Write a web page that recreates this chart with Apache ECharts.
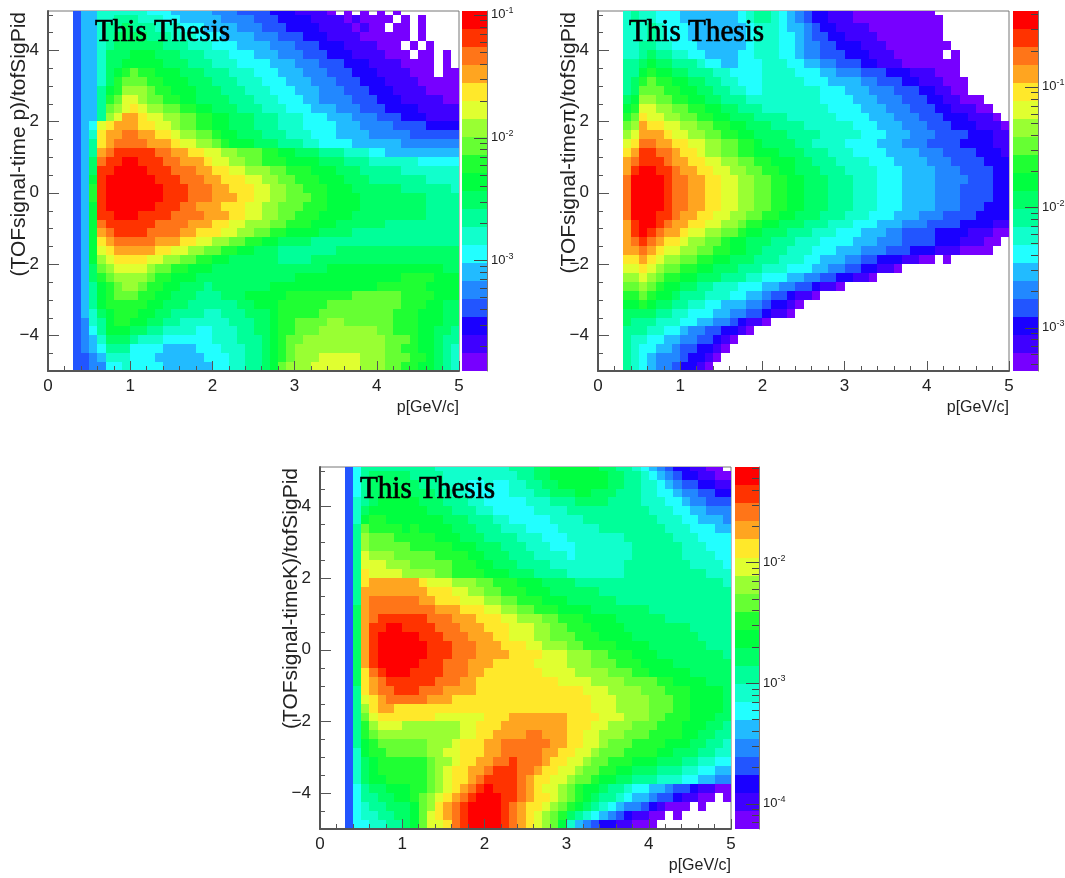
<!DOCTYPE html>
<html><head><meta charset="utf-8">
<style>html,body{margin:0;padding:0;background:#fff}#c{width:1065px;height:878px}</style>
<script src="https://cdn.jsdelivr.net/npm/echarts@6/dist/echarts.min.js"></script>
</head><body><div id="c"></div>
<script>
// One character per cell: palette bin 0-9,a-j (base 20), '.' = empty bin.
// Rows run from the top of the plot to the bottom; each group of ten covers 1 GeV/c.
const protonRows = [
"...3557777 7766655555 4443333222 11110.0.0. 0.0.......",
"...3557788 8777665555 5444433322 2211110100 00.0.0....",
"...3557889 8887776665 5554443332 2221111010 0.00.0....",
"...3557899 9988877766 6555544433 3222111100 0000.0....",
"...3557899 9999888777 6665555444 3332221111 000.0.0...",
"...3557999 aaa9998887 7766655544 4333222111 1000.00.0.",
"...355799a aaaa999888 7776666555 4443332221 1110000.0.",
"...35579ab cbbaaa9998 8877766655 5444333222 1111000.00",
"...35579bc ccbbaaa999 8887776665 5544433322 2111100000",
"...3558abd ddcbbaaa99 9888777666 5554443332 2211110000",
"...3558bce edccbbaa99 9988877766 6554444333 2221111100",
"...3558cde feddccbbaa 9998887776 6655544433 3222211111",
"...3558deg gfeeddccbb aa99988877 7666555444 3332221111",
"...356efgg gffeedccbb aa99988877 7666655544 4433332222",
"...357fggh hggffeddcc baa9998887 7766655554 4444333333",
"...358fghh hhgggfeedd cbaaa99988 8776666555 5554444444",
"...358ghii iiihhggffe eddcccbbaa 9998887776 6555555555",
"...359hiij jiiihhgggf eeddccbbba aaa9998887 7777766666",
"...359iijj jjiiihhhgg ffeedddccb bbaaa99988 8887777777",
"...35aijjj jjjiiihhhg gfffeeddcc bbbaaa9998 8888887777",
"...35bijjj jjjjiiihhh ggfffeeddc cbbbaaa999 9998888887",
"...35bijjj jjjjiiihhh gggffeeddc ccbbaaaa99 9999998888",
"...35aijjj jjjiiihhgg gfffeeddcc cbbbaaaa99 9999998888",
"...35aiijj jiiiihhhhg ggffeeddcc bbbaaaa999 9999998888",
"...35ahiii iiihhhhggg ffeedddccb bbaaa99999 9888888888",
"...35aghii iihhhhggff feeddccbba aaa9999888 8888888888",
"...35afghh hhhgggffee ddccbbaa99 9988888888 8888888888",
"...35aefgg gggffeeddc cbbaa99988 8888899999 9999999999",
"...35adeff ffeeddccbb aa99999988 8899999999 9999999999",
"...359cdee eedccbbaaa 9999999999 9999aaaaaa aaaaaaaa99",
"...359bcdd ddcbbaaa99 9999999999 aaaaaaaaaa aaabbbbaaa",
"...358abcd dcbbaa9998 9999999aaa aaaaaaaaaa bbbbbbaaaa",
"...358abcc cbbaa99988 8999aaaaab bbbbbbbccc cccbbbbaaa",
"...358abbb bbaa999888 88899aaabb bbbbcccccc cccbbbaa99",
"...3579abb baa9988887 7888999abb bbbccccccc ccbbbaaa99",
"...3478abb aa99887777 7788899abb ccccddcccc ccbbbaaa99",
"...3468aaa 9988777766 7778899abb cccddddddd ccbbbaa998",
"...3457999 8777666666 7778889abc cddddddddd dcccbaa988",
"...3456888 6666555566 6777889abc dddddddddd dccbbaa987",
"...3345777 6665555556 6677889abc dddeeeeedd dcccbba987",
"...3344667 6666555555 6677889acd ddeeeeeedd dccbbaa987"];

const pionRows = [
"...7877666 5555555678 8765432211 1000000000 0.........",
"...7877666 5555555678 8765432211 1000000000 00........",
"...7778766 6555555567 7765543221 1110000000 00........",
"...7778766 6555555567 7766543322 1111000000 00........",
"...7788776 6655555567 7766544332 2211100000 000.......",
"...7789887 7665555667 7766544333 2221110000 00.0......",
"...889a998 8876655666 7776655443 3322111000 0000......",
"...88abaa9 9888776666 7777666554 4433322211 1000......",
"...89bcbba a998877666 7777766655 5544333221 11000.....",
"...89cccbb aa99887766 7777777666 5554443332 21100.....",
"...9addccb baa9988877 7777777666 6555444333 2211000...",
"...abeeddc cbbaa99888 7777777766 6655544433 32211100..",
"...bcfeedd ccbbaa9998 8887777776 6665554443 332221110.",
"...cdgffee ddccbbaa99 9888877777 7666555444 3332221110",
"...degggfe eddccbbaa9 9998888777 7766655544 4333322211",
"...efhhggf feeddccbba 9999887777 6666555444 3333222211",
"...fgiihhg ffeddccbba aa99988877 7666655554 4433332221",
"...ghiiihg gffeeddccb baaa998887 7776665555 4443333222",
"...gijjiih ggffeeddcc bbaa999888 7777666555 5444333322",
"...hjjjjih hggffeeddc cbbaa99988 8777666555 5444433322",
"...hjjjjih hggffeeddc cbbaa99988 8777666555 5444333322",
"...hjjjjih hggffeeddc cbbaa99988 8777666555 5444333322",
"...hjjjjih hggffeeddc cbbaa99988 8777666555 5444333222",
"...hjjjiih ggffeeddcc bbaa999888 7776665554 4433332222",
"...gijjihg gffeeddcbb aa99988877 7666555444 3333222211",
"...gijihgg feeddccbaa 9998887776 6655544333 3222211100",
"...ghihgff eddccbaa99 9888777666 6555444333 322211100.",
"...gghgfee ddccbbaa99 8887776665 5544433322 21110000..",
"...ffgfedd ccbbaa9998 8877766555 4433222110 0.0.......",
"...eefedcc bbaa999888 7776665544 3322110... ..........",
"...ddedcbb aa99988877 6665544332 2110...... ..........",
"...ccdcbaa 9988777666 5544332110 .......... ..........",
"...bbcbaa9 8887776655 4332110... .......... ..........",
"...aaba998 8776655544 32210..... .......... ..........",
"...9999887 7666554433 2110...... .......... ..........",
"...9888777 6655443211 0......... .......... ..........",
"...8887766 544332210. .......... .......... ..........",
"...8776655 4433210... .......... .......... ..........",
"...8766554 332210.... .......... .......... ..........",
"...8765444 32210..... .......... .......... ..........",
"...8765443 2210...... .......... .......... .........."];

const kaonRows = [
"...3688888 8888777777 77788899aa aaaa998876 543221100.",
"...3689999 9888877777 77778899aa aaaaa99887 6543221100",
"...3689999 9988877766 766778899a aaaaa99887 7654332211",
"...368999a 9999887766 6667778899 9aa9998887 7665443322",
"...3789aaa aa99988877 6666677788 8999988887 7766544333",
"...379aaaa aaa9998887 7666667777 8888888888 7776655444",
"...37abbaa aaaaa99988 8776666677 7788888888 8777665554",
"...38cbbbb abaaaa9998 8877766667 7777888888 8877766655",
"...38dcccb bbbbaaa999 8888777666 7777777888 8887776666",
"...38dcccc cbbbbbaaa9 9988877766 6777777788 8888777666",
"...38edddc ccccbbbbaa 9998887777 6777777788 8888777766",
"...38eeedd dcccccbbba a999888877 7777777888 8888877776",
"...38feeee ddddccbbbb aaa9998888 7777777888 8888888777",
"...38fgggg ggfeeedddc cbbbaaa999 9888888888 8888888887",
"...38ggggg gggfffeedd ccbbbaaa99 9999888888 8888888888",
"...38ghhhh hhggfffeee ddccbbbaaa 9999998888 8888888888",
"...39ghhhh hhhhgggfff eeddccbbba aaa9999999 8888888888",
"...39ghiii iiihhhgggf ffeedddccb bbaaaa9999 9988888888",
"...39giijj iiiihhhggg fffeeeddcc bbbaaaa999 9999988888",
"...39gijjj jjiiihhhgg gffeeeddcc cbbbaaaa99 9999998888",
"...39gijjj jjjiiihhhg ggfffeeddd ccbbbbaaaa 9999999888",
"...39gijjj jjjiiihhhg gggffffeee dddccbbbaa a999999998",
"...39gijjj jjiiihhhgg gfffffeeee dddcccbbba aaa9999999",
"...39fhijj jiiiihhhgg fffffffeee eddddcccbb aaaaa99999",
"...39fghii iiiihhhggf fffffffffe eeeddddccc cbbaaaa999",
"...38fghhi iihhhggggf ffffffffff ffeeeddddc ccbbbaaaa9",
"...38efghh hhhgggffff ffffffffff fffeeedddd cccbbaaaa9",
"...38dfggf ffffffffff ffffffffff fffeeedddd cccbbaaaa9",
"...38cefff ffffeeeeee fffggggggg ffffeeeddd ccbbbaaa99",
"...38bdeee dddddddeef ffgggggggg fffeedddcc cbbbaaa998",
"...38bcddd dddddddeef fgggghhggg ffeedddccc bbbbaa9988",
"...38abccc cccdddefff gghhhhhhgg ffeedcccbb bbaaa99887",
"...37abbcc cccddeefff gghhhhhggf feedcccbbb baa9998877",
"...379abbb bbbcddeffg ghhihhhgff eedccbbbaa a999887766",
"...379abbb bbbcdeffgg hiiihhgffe edccbbaa99 9888776655",
"...379aabb bbbcdeffgh iiiihgffee dccbaa9988 8777665544",
"...36899aa abbcdefghi jiiihgfeed cbaa988766 5543321100",
"...368899a abcdefghij jjiihgffed cba9887655 43321100.0",
"...3678899 9acdfghijj jjihgffedc ba98765443 21000.0...",
"...3677889 9acefghijj jjihgfedcb 9876543211 00.0......",
"...3667788 9aceefhijj jjihgfedca 7543221100 0........."];

const levelColors = ["#7700ff","#3f00ff","#1a00ff","#2255ff","#2288ff","#22bbff","#22ffff","#11ffcc","#00ff99","#00ff66",
  "#00ff40","#1fff33","#66ff33","#99ff33","#e0ff30","#ffe82a","#ffa520","#ff7518","#ff3300","#ff0000"];
const levelDigits = "0123456789abcdefghij";

const pTicks = [0,1,2,3,4,5];
const yMajorTicks = [-4,-2,0,2,4];
const yMinorTicks = [-4.5,-3.5,-3,-2.5,-1.5,-1,-0.5,0.5,1,1.5,2.5,3,3.5,4.5,5];
const titles = ["(TOFsignal-time p)/tofSigPid","(TOFsignal-timeπ)/tofSigPid","(TOFsignal-timeK)/tofSigPid"];
const stamp = "This Thesis";
const xTitle = "p[GeV/c]";
// log10 extent of each colour bar and its decades
const barLog = [[-3.9,-0.97],[-3.36,-0.37],[-4.21,-1.21]];
const barDecades = [[-3,-2,-1],[-3,-2,-1],[-4,-3,-2]];

const panels = [
 {rows:protonRows, left:48,  top:11,  h:360, barLeft:462,  barW:25, titleX:19,  stampX:95},
 {rows:pionRows,   left:598, top:11,  h:360, barLeft:1013, barW:25, titleX:569, stampX:629},
 {rows:kaonRows,   left:320, top:467, h:362, barLeft:735,  barW:24, titleX:291, stampX:360}
];
const plotW = 411;
const FONT = "Liberation Sans";
const AX = "#555";

function cellsFrom(rows){
  const out=[];
  rows.forEach((row,r)=>{
    const yHi = r===0 ? 5.1 : 5-(r-1)*0.25;
    const yLo = r===0 ? 5 : yHi-0.25;
    row.trim().split(/\s+/).forEach((grp,g)=>{
      for(let k=0;k<grp.length;k++){
        const l=levelDigits.indexOf(grp[k]);
        if(l<0) continue;
        out.push([g+k*0.1, g+(k+1)*0.1, yLo, yHi, l]);
      }
    });
  });
  return out;
}
function rectItem(params,api){
  const a=api.coord([api.value(0),api.value(3)]), b=api.coord([api.value(1),api.value(2)]);
  const x=Math.round(a[0]), y=Math.round(a[1]);
  return {type:'rect',shape:{x,y,width:Math.round(b[0])-x,height:Math.round(b[1])-y},
    style:{fill:levelColors[api.value(4)]}};
}
// tick mark on the colour bar: [edge x, log10 value, pixel length]
function barTickItem(params,api){
  const a=api.coord([api.value(0),api.value(1)]);
  const y=Math.round(a[1])+0.5;
  return {type:'line',shape:{x1:a[0],y1:y,x2:a[0]-api.value(2),y2:y},style:{stroke:'#444',lineWidth:1}};
}
// short tick on a plot's left edge: [edge x, y value, pixel length]
function plotTickItem(params,api){
  const a=api.coord([api.value(0),api.value(1)]);
  const y=Math.round(a[1])+0.5;
  return {type:'line',shape:{x1:a[0],y1:y,x2:a[0]+api.value(2),y2:y},style:{stroke:AX,lineWidth:1}};
}
function decade(v){return '{b|10}{s|'+(v<0?'-':'')+Math.abs(v)+'}';}

const grid=[],xAxis=[],yAxis=[],series=[],graphic=[];
panels.forEach((p,i)=>{
  const g=grid.length;
  grid.push({left:p.left,top:p.top,width:plotW,height:p.h,show:true,borderColor:'#777',borderWidth:1,backgroundColor:'#fff',outerBoundsMode:'none'});
  xAxis.push({gridIndex:g,type:'value',min:0,max:5,interval:1,position:'bottom',z:5,
    axisLine:{onZero:false,lineStyle:{color:AX,width:2}},
    axisTick:{inside:true,length:10,lineStyle:{color:AX,width:1}},
    minorTick:{show:true,splitNumber:5,length:5,lineStyle:{color:AX,width:1}},
    splitLine:{show:false},
    axisLabel:{color:'#222',fontFamily:FONT,fontSize:17,margin:7,formatter:v=>String(v),
      customValues:pTicks},
    name:xTitle,nameLocation:'end',nameGap:0,
    nameTextStyle:{color:'#222',fontFamily:FONT,fontSize:16,align:'right',verticalAlign:'top',padding:[29,0,0,0]}});
  const ya=yAxis.length;
  yAxis.push({gridIndex:g,type:'value',min:-5,max:5.1,position:'left',z:5,
    axisLine:{onZero:false,lineStyle:{color:AX,width:2}},
    axisTick:{inside:true,length:11,customValues:yMajorTicks,lineStyle:{color:AX,width:1}},
    splitLine:{show:false},
    axisLabel:{color:'#222',fontFamily:FONT,fontSize:17,margin:9,customValues:yMajorTicks,
      formatter:v=>(v<0?'−':'')+Math.abs(v)}});
  const xa=xAxis.length-1;
  series.push({type:'custom',coordinateSystem:'cartesian2d',xAxisIndex:xa,yAxisIndex:ya,
    clip:true,animation:false,silent:true,progressive:0,
    encode:{x:[0,1],y:[2,3]},renderItem:rectItem,data:cellsFrom(p.rows),z:1});
  series.push({type:'custom',coordinateSystem:'cartesian2d',xAxisIndex:xa,yAxisIndex:ya,
    clip:false,animation:false,silent:true,encode:{x:0,y:1},renderItem:plotTickItem,z:6,
    data:yMinorTicks.map(v=>[0,v,5])});
  // colour bar
  const gb=grid.length;
  const [lo,hi]=barLog[i];
  grid.push({left:p.barLeft,top:p.top,width:p.barW,height:p.h,show:false,outerBoundsMode:'none'});
  xAxis.push({gridIndex:gb,type:'value',min:0,max:1,show:false});
  const minors=[];
  for(let d=Math.floor(lo);d<Math.ceil(hi);d++){
    for(let m=2;m<=9;m++){const v=d+Math.log10(m); if(v>lo&&v<hi) minors.push(v);}
  }
  const yb=yAxis.length;
  yAxis.push({gridIndex:gb,type:'value',min:lo,max:hi,position:'right',z:5,
    axisLine:{show:true,onZero:false,lineStyle:{color:'#777',width:1}},
    axisTick:{show:false},
    splitLine:{show:false},
    axisLabel:{margin:4,color:'#222',fontFamily:FONT,customValues:barDecades[i],formatter:decade,
      rich:{b:{fontSize:13,fontFamily:FONT,color:'#222'},s:{fontSize:9,fontFamily:FONT,color:'#222',padding:[0,0,8,0]}}}});
  const step=(hi-lo)/levelColors.length;
  const xb=xAxis.length-1;
  series.push({type:'custom',coordinateSystem:'cartesian2d',xAxisIndex:xb,yAxisIndex:yb,
    clip:false,animation:false,silent:true,encode:{x:[0,1],y:[2,3]},renderItem:rectItem,z:1,
    data:levelColors.map((c,l)=>[0,1,lo+l*step,lo+(l+1)*step,l])});
  series.push({type:'custom',coordinateSystem:'cartesian2d',xAxisIndex:xb,yAxisIndex:yb,
    clip:false,animation:false,silent:true,encode:{x:0,y:1},renderItem:barTickItem,z:6,
    data:barDecades[i].map(v=>[1,v,13]).concat(minors.map(v=>[1,v,7]))});
  graphic.push({type:'text',x:p.stampX,y:p.top+(i===2?7:6),scaleX:0.91,z:10,
    style:{text:stamp,fontFamily:'Liberation Serif',fontSize:32,fill:'#000',stroke:'#000',lineWidth:0.7}});
  graphic.push({type:'text',x:p.titleX,y:p.top+1,rotation:Math.PI/2,z:10,
    style:{text:titles[i],fontFamily:FONT,fontSize:21,fill:'#222',align:'right',verticalAlign:'middle'}});
});
const chart=echarts.init(document.getElementById('c'),null,{renderer:'canvas'});
chart.setOption({animation:false,backgroundColor:'#fff',grid,xAxis,yAxis,series,graphic});
</script></body></html>
